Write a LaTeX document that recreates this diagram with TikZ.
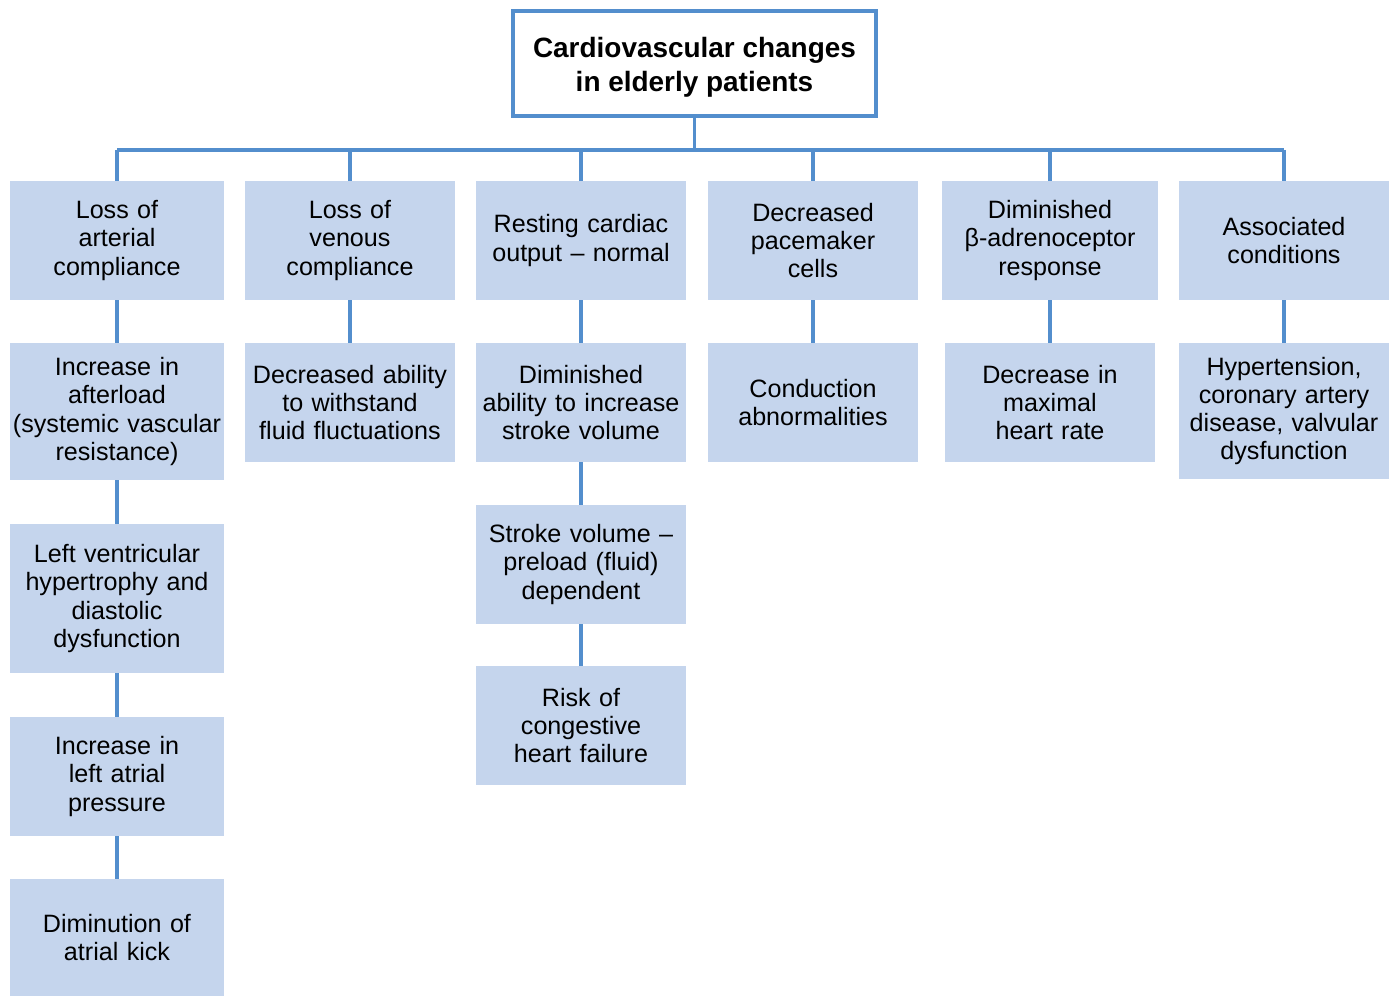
\documentclass[tikz,border=0pt]{standalone}
\usepackage{fontspec}
\setmainfont{Liberation Sans}
\definecolor{cvblue}{RGB}{83,142,205}
\definecolor{cvfill}{RGB}{197,213,237}

\begin{document}
\begin{tikzpicture}[x=0.02cm, y=-0.02cm,
        cvbox/.style={fill=cvfill, inner sep=0pt, align=center, text width=4.2cm,
            minimum height=2.38cm, font=\fontsize{14.3}{16}\selectfont},
        cvlink/.style={draw=cvblue, line width=1.8pt}]
        \useasboundingbox (0,0) rectangle (1390,996);

        % Titel
        \node[draw=cvblue, line width=2.6pt, inner sep=0pt, minimum width=7.26cm,
            minimum height=2.1cm, align=center,
            font=\bfseries\fontsize{15.9}{19.3}\selectfont] (top) at (694.5,63.5)
            {\rule{0pt}{16pt}Cardiovascular changes\\in elderly patients};
        \coordinate (bus) at (0,150);

        % Spalte 1
        \node[cvbox, text width=4.3cm] (arterial) at (117,240.5) {Loss of\\arterial\\compliance};
        \node[cvbox, text width=4.3cm, minimum height=2.74cm] (afterload) at (117,411.5)
            {Increase in\\afterload\\(systemic vascular\\resistance)};
        \node[cvbox, text width=4.3cm, minimum height=2.98cm] (lvh) at (117,598.5)
            {Left ventricular\\hypertrophy and\\diastolic\\dysfunction};
        \node[cvbox, text width=4.3cm] (atrialp) at (117,776.5) {Increase in\\left atrial\\pressure};
        \node[cvbox, text width=4.3cm, minimum height=2.34cm] (kick) at (117,937.5)
            {Diminution of\\atrial kick};

        % Spalte 2
        \node[cvbox] (venous) at (350,240.5) {Loss of\\venous\\compliance};
        \node[cvbox] (withstand) at (350,402.5) {Decreased ability\\to withstand\\fluid fluctuations};

        % Spalte 3
        \node[cvbox] (cardiac) at (581,240.5) {Resting cardiac\\output -- normal};
        \node[cvbox] (strokevol) at (581,402.5) {Diminished\\ability to increase\\stroke volume};
        \node[cvbox] (preload) at (581,564.5) {Stroke volume --\\preload (fluid)\\dependent};
        \node[cvbox] (chf) at (581,725.5) {Risk of\\congestive\\heart failure};

        % Spalte 4
        \node[cvbox] (pacemaker) at (813,240.5) {Decreased\\pacemaker\\cells};
        \node[cvbox] (conduction) at (813,402.5) {Conduction\\abnormalities};

        % Spalte 5
        \node[cvbox, text width=4.34cm] (beta) at (1050,240.5) {Diminished\\β-adrenoceptor\\response};
        \node[cvbox] (maxhr) at (1050,402.5) {Decrease in\\maximal\\heart rate};

        % Spalte 6
        \node[cvbox] (assoc) at (1284,240.5) {Associated\\conditions};
        \node[cvbox, minimum height=2.72cm] (hypert) at (1284,411)
            {Hypertension,\\coronary artery\\disease, valvular\\dysfunction};

        % Verbindungen
        \draw[cvlink] (top) -- (top |- bus);
        \draw[cvlink] (arterial |- bus) -- (assoc |- bus);
        \foreach \n in {arterial, venous, cardiac, pacemaker, beta, assoc}
            \draw[cvlink] (\n |- bus) -- (\n.north);
        \draw[cvlink] (arterial) -- (afterload);
        \draw[cvlink] (afterload) -- (lvh);
        \draw[cvlink] (lvh) -- (atrialp);
        \draw[cvlink] (atrialp) -- (kick);
        \draw[cvlink] (venous) -- (withstand);
        \draw[cvlink] (cardiac) -- (strokevol);
        \draw[cvlink] (strokevol) -- (preload);
        \draw[cvlink] (preload) -- (chf);
        \draw[cvlink] (pacemaker) -- (conduction);
        \draw[cvlink] (beta) -- (maxhr);
        \draw[cvlink] (assoc) -- (hypert);

    \end{tikzpicture}
\end{document}
